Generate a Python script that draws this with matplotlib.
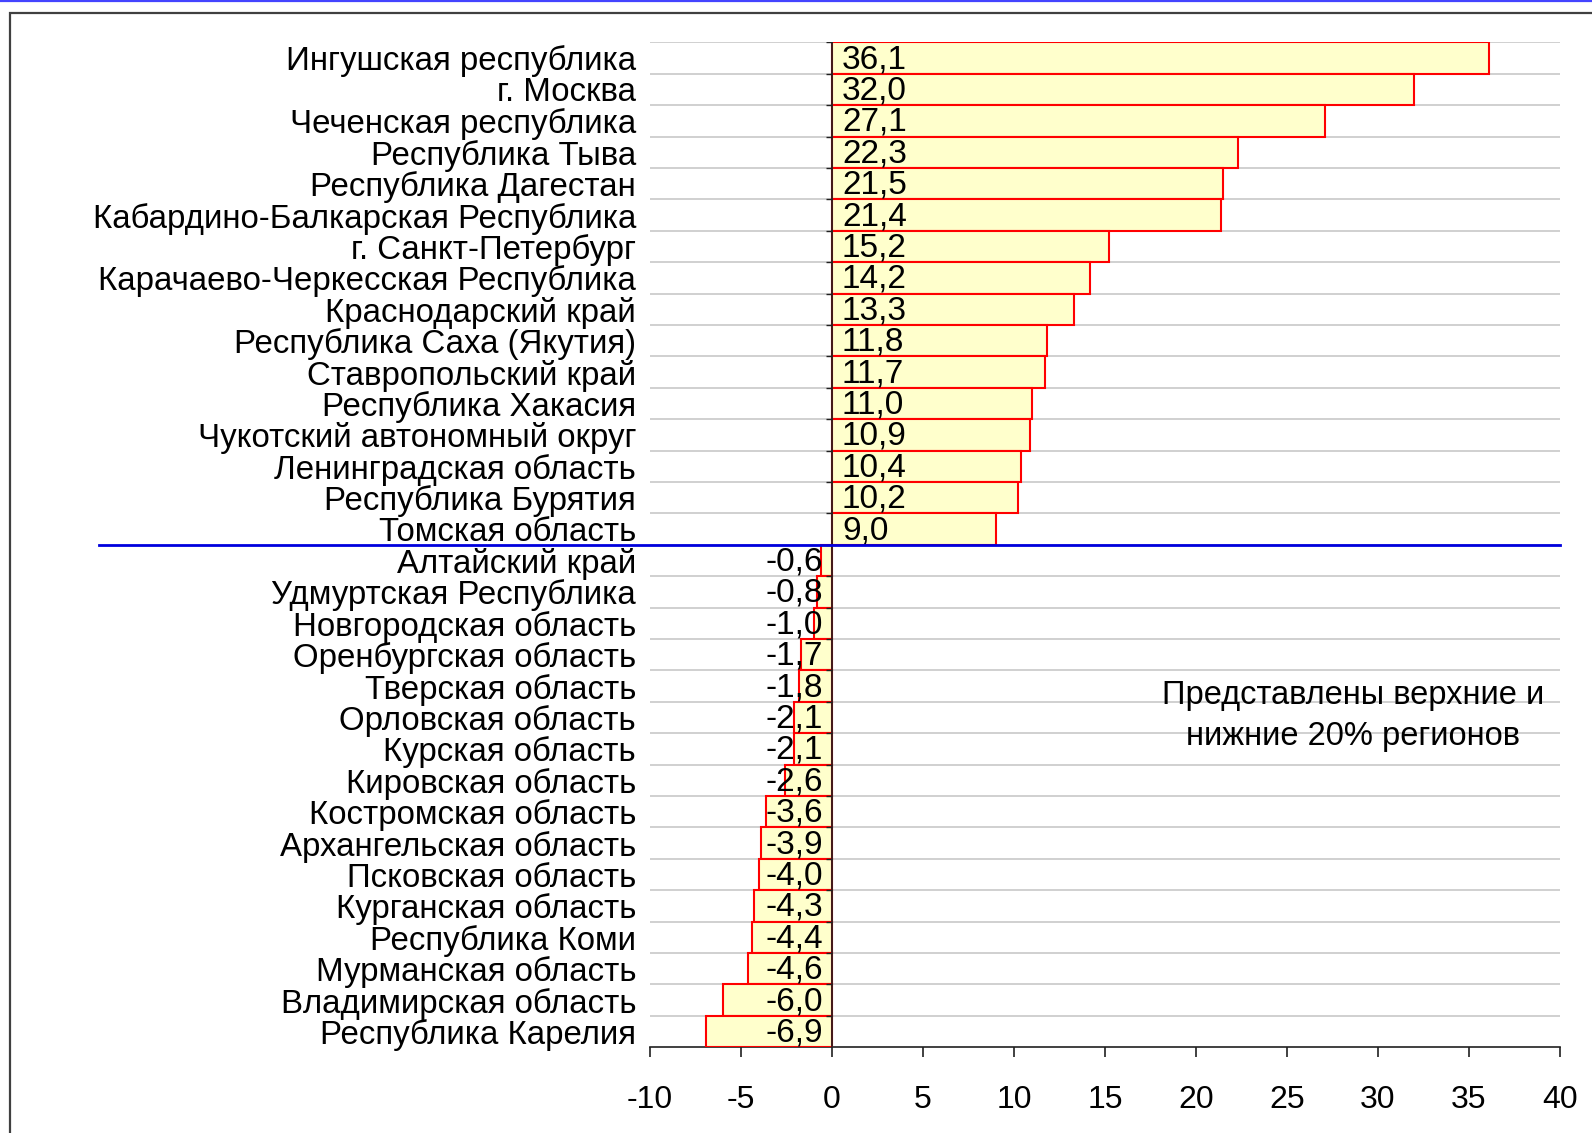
import matplotlib
matplotlib.use("Agg")
import matplotlib.pyplot as plt
from matplotlib.lines import Line2D
from matplotlib.patches import Rectangle
import matplotlib.transforms as mtransforms

plt.rcParams['font.family'] = ['Liberation Sans', 'DejaVu Sans']

regions = [
    "Ингушская республика", "г. Москва", "Чеченская республика", "Республика Тыва",
    "Республика Дагестан", "Кабардино-Балкарская Республика", "г. Санкт-Петербург",
    "Карачаево-Черкесская Республика", "Краснодарский край", "Республика Саха (Якутия)",
    "Ставропольский край", "Республика Хакасия", "Чукотский автономный округ",
    "Ленинградская область", "Республика Бурятия", "Томская область",
    "Алтайский край", "Удмуртская Республика", "Новгородская область",
    "Оренбургская область", "Тверская область", "Орловская область", "Курская область",
    "Кировская область", "Костромская область", "Архангельская область",
    "Псковская область", "Курганская область", "Республика Коми",
    "Мурманская область", "Владимирская область", "Республика Карелия",
]
values = [
    36.1, 32.0, 27.1, 22.3, 21.5, 21.4, 15.2, 14.2, 13.3, 11.8, 11.7, 11.0, 10.9,
    10.4, 10.2, 9.0,
    -0.6, -0.8, -1.0, -1.7, -1.8, -2.1, -2.1, -2.6, -3.6, -3.9, -4.0, -4.3, -4.4,
    -4.6, -6.0, -6.9,
]
n_top = 16
x_ticks = [-10, -5, 0, 5, 10, 15, 20, 25, 30, 35, 40]
note = "Представлены верхние и\nнижние 20% регионов"

W, H = 1592, 1133
fig = plt.figure(figsize=(W / 100, H / 100), dpi=100)
ax = fig.add_axes([650 / W, 1 - 1047.3 / H, 910 / W, (1047.3 - 42.3) / H])

n = len(regions)
ypos = list(range(n))
ax.barh(ypos, values, height=1.0, color="#ffffcc", edgecolor="#ff0000",
        linewidth=1.5, zorder=3)
ax.set_ylim(n - 0.5, -0.5)
ax.set_xlim(x_ticks[0], x_ticks[-1])

# gridlines at category boundaries
for b in range(n):
    ax.axhline(b - 0.5, color="#c8c8c8", lw=1.2, zorder=1)

# category axis at x = 0
ax.axvline(0, color="#202020", lw=1.2, zorder=4)
ax.hlines([b - 0.5 for b in range(n)], -0.35, 0, color="#202020", lw=1.0, zorder=4)

ax.set_yticks(ypos)
ax.set_yticklabels(regions, fontsize=23.8)
ax.tick_params(axis="y", length=0, pad=10)

ax.set_xticks(x_ticks)
ax.set_xticklabels([str(t) for t in x_ticks], fontsize=23)
ax.tick_params(axis="x", length=7, width=1.2, color="#202020", pad=20, direction="out")

for s in ["left", "right", "top"]:
    ax.spines[s].set_visible(False)
ax.spines["bottom"].set_color("#202020")
ax.spines["bottom"].set_linewidth(1.2)

# value labels
off_pos = mtransforms.offset_copy(ax.transData, fig=fig, x=10, y=-1.5, units="dots")
off_neg = mtransforms.offset_copy(ax.transData, fig=fig, x=-9, y=-1.5, units="dots")
for y, v in zip(ypos, values):
    s = f"{v:.1f}".replace(".", ",")
    if v >= 0:
        ax.text(0, y, s, transform=off_pos, ha="left", va="center", fontsize=24, zorder=5)
    else:
        ax.text(0, y, s, transform=off_neg, ha="right", va="center", fontsize=24, zorder=5)

# separator line between top and bottom groups
sep = Line2D([-0.606, 1.0], [n_top - 0.5, n_top - 0.5], color="#0000dd", lw=2,
             transform=mtransforms.blended_transform_factory(ax.transAxes, ax.transData),
             clip_on=False, zorder=6)
ax.add_line(sep)

# note
ax.text(1353 / W, 1 - 716 / H, note, transform=fig.transFigure, ha="center", va="center",
        fontsize=23.5, linespacing=1.4)

# frame and top blue line
fig.add_artist(Rectangle((10 / W, -0.1), 1.2, 1 - 13 / H + 0.1, transform=fig.transFigure,
                         fill=False, edgecolor="#404040", lw=1.6))
fig.add_artist(Line2D([0, 1], [1 - 1 / H, 1 - 1 / H], transform=fig.transFigure,
                      color="#4444ff", lw=1.6))

fig.savefig("out.png", dpi=100)
